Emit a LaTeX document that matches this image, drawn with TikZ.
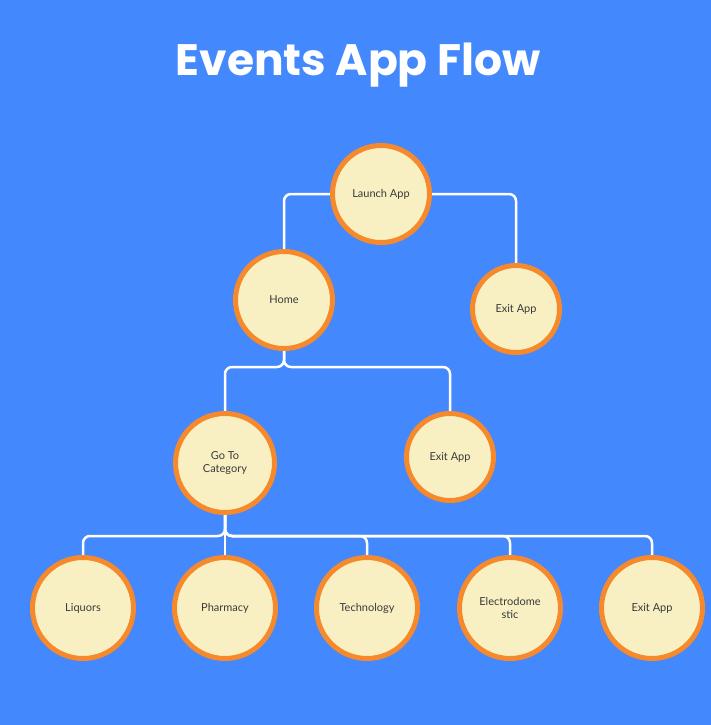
\documentclass[tikz,border=0pt]{standalone}
\usepackage{fontspec}
\usetikzlibrary{backgrounds}
\setmainfont{Lato}
\newfontfamily\titlefont{Poppins}
\definecolor{bgblue}{HTML}{4388FD}
\definecolor{nodefill}{HTML}{F8F0C2}
\definecolor{nodeborder}{HTML}{F5892B}
\definecolor{txtgray}{HTML}{3A3A3A}
\tikzset{
  stepnode/.style={circle, draw=nodeborder, fill=nodefill, line width=5pt,
    inner sep=0pt, align=center, font=\fontsize{11}{13}\selectfont, text=txtgray},
  bignode/.style={stepnode, minimum size=97pt},
  smallnode/.style={stepnode, minimum size=87pt},
  leafnode/.style={stepnode, minimum size=101pt},
  conn/.style={draw=white, line width=2.5pt, rounded corners=7pt}
}
\begin{document}
\begin{tikzpicture}[x=1pt,y=-1pt]
\begin{scope}[on background layer]
\fill[bgblue] (0,0) rectangle (711,725);
\end{scope}
\useasboundingbox (0,0) rectangle (711,725);
\node[text=white, font=\titlefont\bfseries\fontsize{44}{50}\selectfont] (title) at (358,65) {Events App Flow};

\coordinate (j2) at (284,367);
\coordinate (j3) at (225,536);

\node[bignode] (launch) at (381,194) {Launch App};
\node[bignode] (home) at (284,300) {Home};
\node[smallnode] (exit1) at (516,309) {Exit App};
\node[stepnode, minimum size=99pt] (goto) at (225,463) {Go To\\Category};
\node[smallnode] (exit2) at (450,457) {Exit App};
\node[leafnode] (liq) at (83,608) {Liquors};
\node[leafnode] (pha) at (225,608) {Pharmacy};
\node[leafnode] (tec) at (367,608) {Technology};
\node[leafnode] (ele) at (510,608) {Electrodome\\stic};
\node[leafnode] (ex3) at (652,608) {Exit App};

\begin{scope}[on background layer]
\draw[conn] (launch.west) -| (home.north);
\draw[conn] (launch.east) -| (exit1.north);

\draw[conn] (home.south) -- (j2) -- (goto.north |- j2) -- (goto.north);
\draw[conn] (home.south) -- (j2) -- (exit2.north |- j2) -- (exit2.north);

\draw[conn] (goto.south) -- (j3) -- (liq.north |- j3) -- (liq.north);
\draw[conn] (goto.south) -- (pha.north);
\draw[conn] (goto.south) -- (j3) -- (tec.north |- j3) -- (tec.north);
\draw[conn] (goto.south) -- (j3) -- (ele.north |- j3) -- (ele.north);
\draw[conn] (goto.south) -- (j3) -- (ex3.north |- j3) -- (ex3.north);
\end{scope}
\end{tikzpicture}
\end{document}
